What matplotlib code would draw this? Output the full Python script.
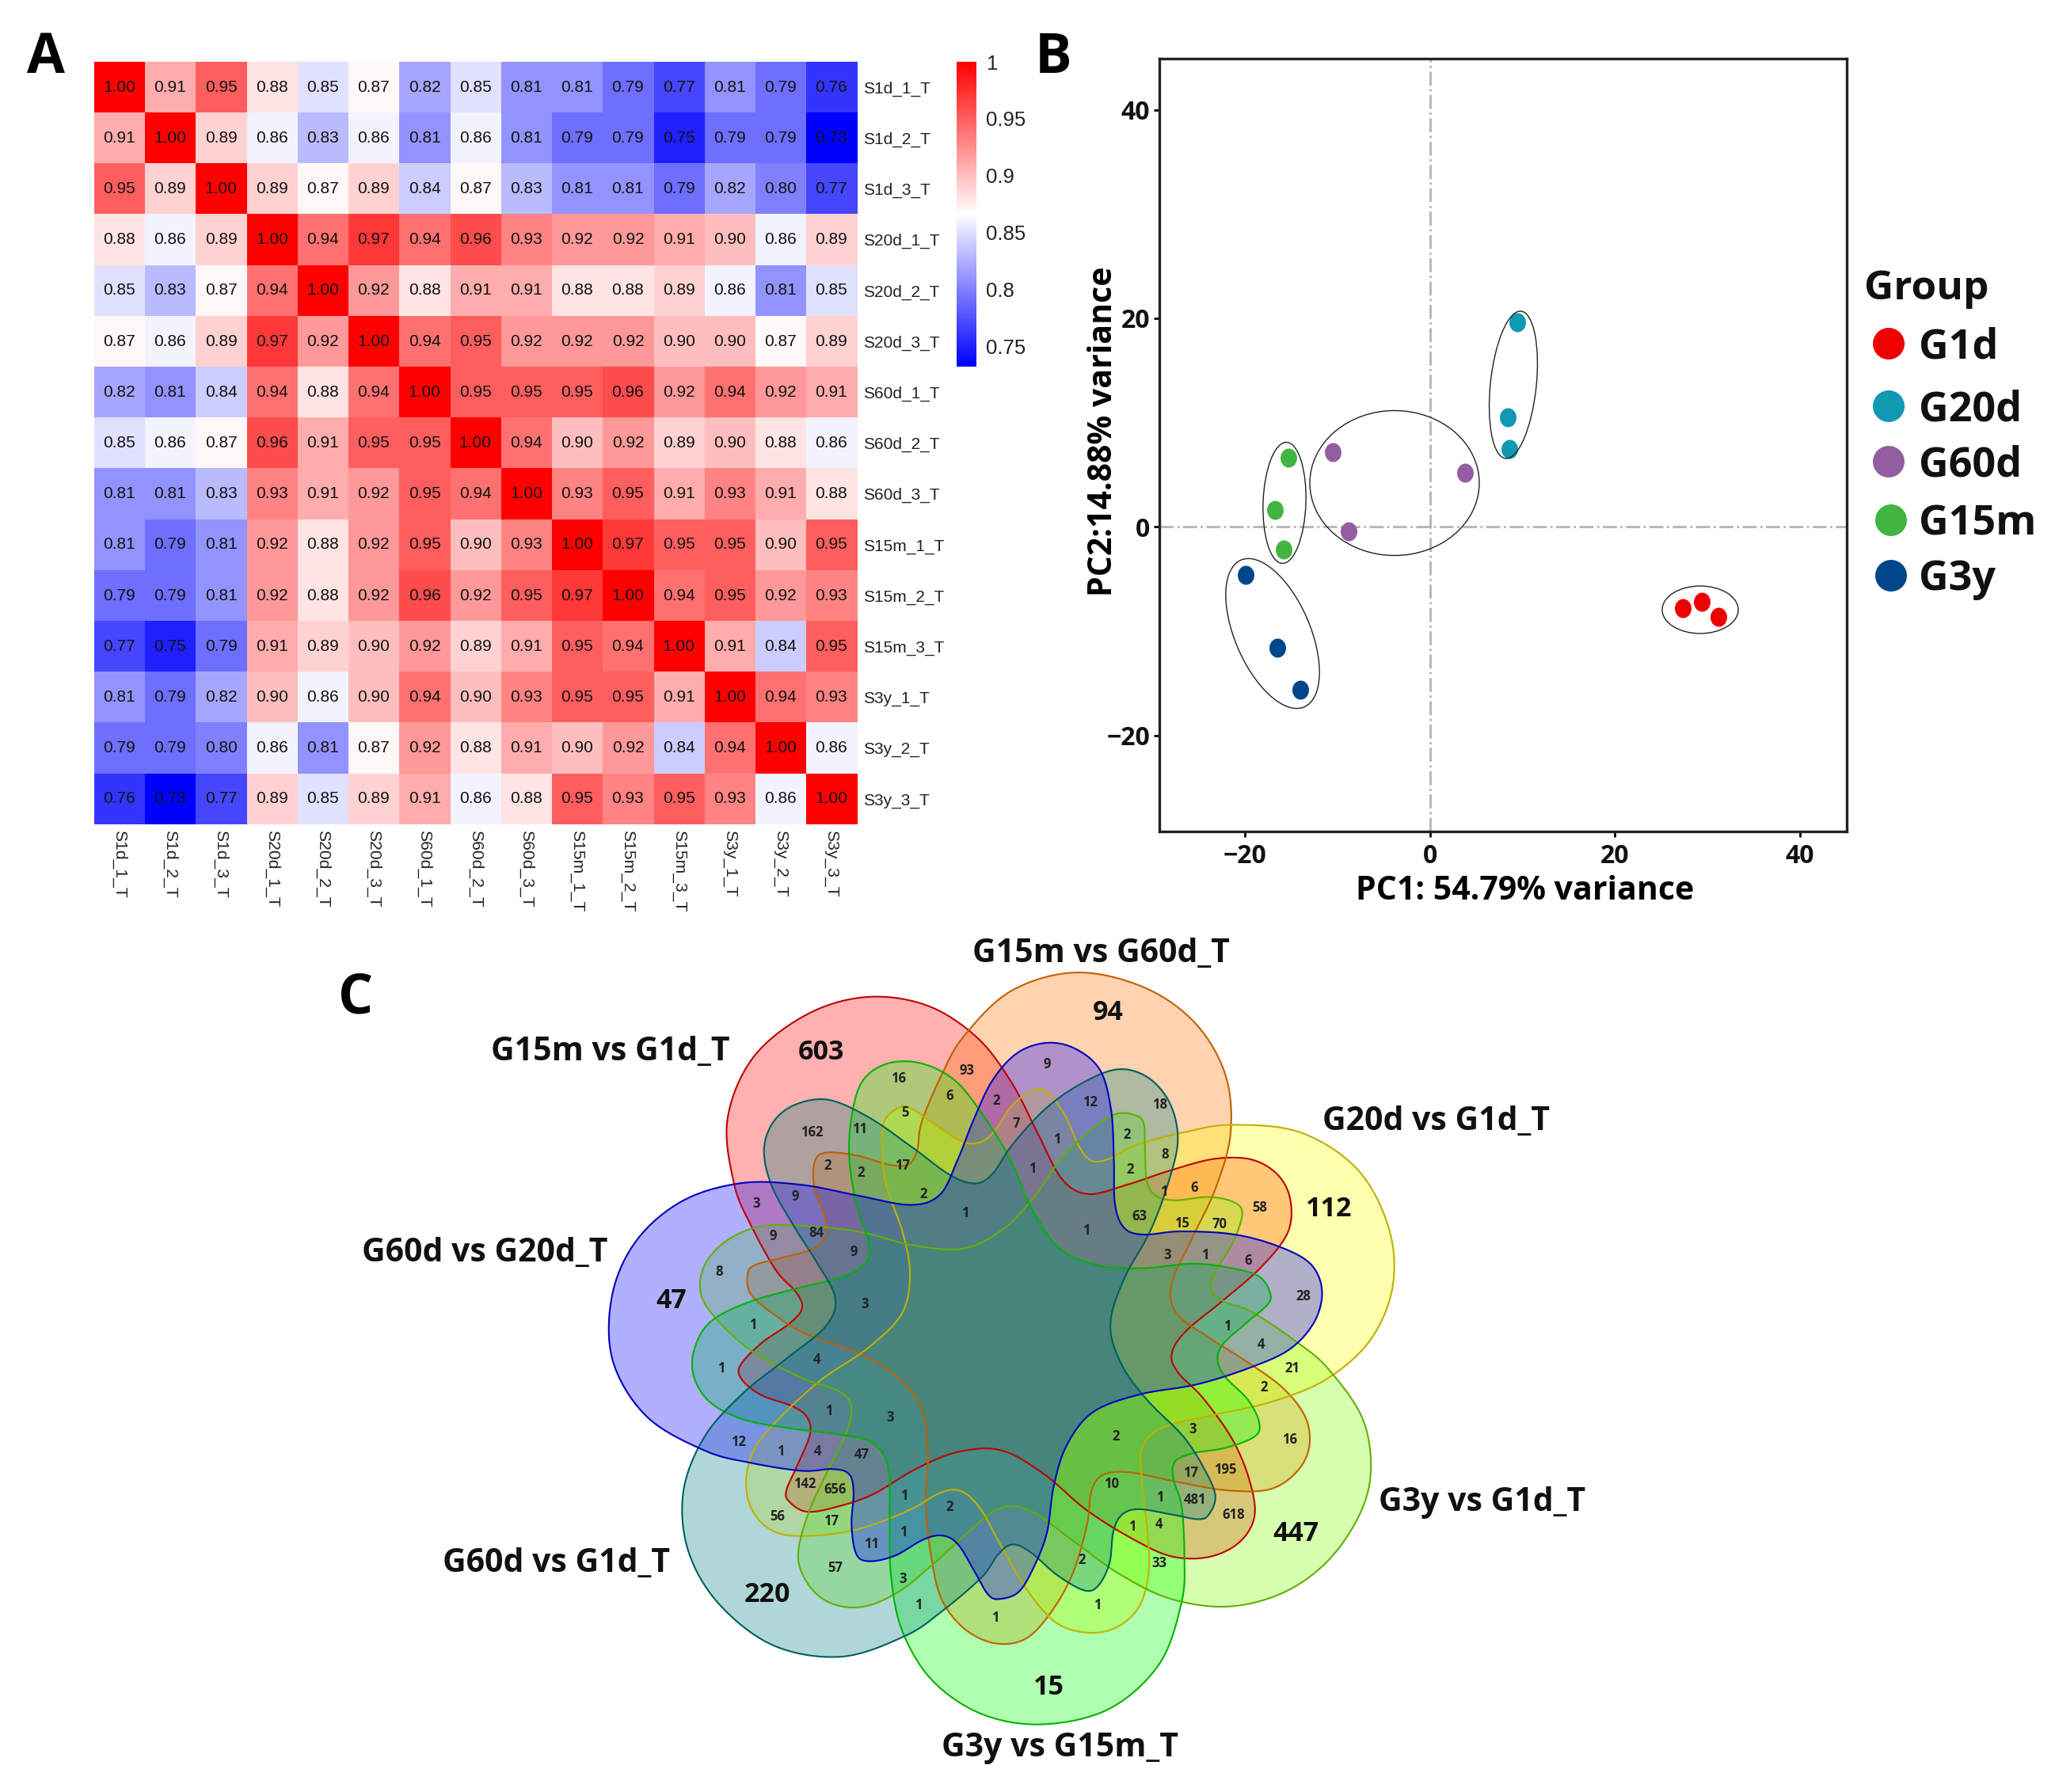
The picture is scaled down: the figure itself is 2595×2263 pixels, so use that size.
import numpy as np
import matplotlib
matplotlib.use("Agg")
import matplotlib.pyplot as plt
from matplotlib.colors import LinearSegmentedColormap
from matplotlib.patches import Ellipse, Polygon
from matplotlib.path import Path
from matplotlib.transforms import Affine2D

W, H = 2595, 2263
samples = ["S1d_1_T","S1d_2_T","S1d_3_T","S20d_1_T","S20d_2_T","S20d_3_T","S60d_1_T","S60d_2_T",
           "S60d_3_T","S15m_1_T","S15m_2_T","S15m_3_T","S3y_1_T","S3y_2_T","S3y_3_T"]
corr = [
[1.00,.91,.95,.88,.85,.87,.82,.85,.81,.81,.79,.77,.81,.79,.76],
[.91,1.00,.89,.86,.83,.86,.81,.86,.81,.79,.79,.75,.79,.79,.73],
[.95,.89,1.00,.89,.87,.89,.84,.87,.83,.81,.81,.79,.82,.80,.77],
[.88,.86,.89,1.00,.94,.97,.94,.96,.93,.92,.92,.91,.90,.86,.89],
[.85,.83,.87,.94,1.00,.92,.88,.91,.91,.88,.88,.89,.86,.81,.85],
[.87,.86,.89,.97,.92,1.00,.94,.95,.92,.92,.92,.90,.90,.87,.89],
[.82,.81,.84,.94,.88,.94,1.00,.95,.95,.95,.96,.92,.94,.92,.91],
[.85,.86,.87,.96,.91,.95,.95,1.00,.94,.90,.92,.89,.90,.88,.86],
[.81,.81,.83,.93,.91,.92,.95,.94,1.00,.93,.95,.91,.93,.91,.88],
[.81,.79,.81,.92,.88,.92,.95,.90,.93,1.00,.97,.95,.95,.90,.95],
[.79,.79,.81,.92,.88,.92,.96,.92,.95,.97,1.00,.94,.95,.92,.93],
[.77,.75,.79,.91,.89,.90,.92,.89,.91,.95,.94,1.00,.91,.84,.95],
[.81,.79,.82,.90,.86,.90,.94,.90,.93,.95,.95,.91,1.00,.94,.93],
[.79,.79,.80,.86,.81,.87,.92,.88,.91,.90,.92,.84,.94,1.00,.86],
[.76,.73,.77,.89,.85,.89,.91,.86,.88,.95,.93,.95,.93,.86,1.00]]
cbar_ticks = [1, .95, .9, .85, .8, .75]
cbar_labels = ["1", "0.95", "0.9", "0.85", "0.8", "0.75"]

groups = ["G1d", "G20d", "G60d", "G15m", "G3y"]
group_colors = ["#ED0000", "#0F99B2", "#925E9F", "#42B540", "#00468B"]
pc1 = [[27.3,29.4,31.2],[9.47,8.4,8.6],[-10.5,3.8,-8.8],[-15.3,-16.75,-15.8],[-19.9,-16.5,-14.0]]
pc2 = [[-7.8,-7.15,-8.6],[19.6,10.5,7.44],[7.15,5.17,-0.4],[6.6,1.63,-2.15],[-4.6,-11.6,-15.6]]

venn_names = ["G3y vs G15m_T","G60d vs G1d_T","G60d vs G20d_T","G15m vs G1d_T","G15m vs G60d_T","G20d vs G1d_T","G3y vs G1d_T"]
venn_big = ["603","94","112","447","15","220","47"]
venn_small = ["93","16","6","9","2","7","12","18","5","162","11","1","2","8","2","2","17","1","2","1","6","58","2","3","9","1","63","15","70","9","84","9","1","3","1","6","8","28","3","1","1","4","4","1","21","2","1","3","2","3","16","12","1","4","47","17","195","10","142","656","1","1","481","2","618","56","17","1","4","1","11","2","33","57","3","1","1","1"]

big_xy = [(481,248),(997,178),(1394,527),(1335,1105),(890,1378),(383,1213),(211,691)]
small_xy = [(743,282),(619,296),(711,327),(887,270),(796,335),(832,376),(965,338),(1090,342),(631,356),(463,391),(549,386),(905,404),(1031,396),(1099,431),(492,451),(552,464),(627,451),(861,456),(1037,458),(1097,498),(1152,491),(1270,525),(664,501),(363,518),(434,506),(739,536),(1053,541),(1130,554),(1197,555),(394,576),(472,571),(539,604),(957,567),(1104,610),(1171,610),(1249,620),(297,640),(1349,684),(559,697),(357,734),(1211,737),(1272,770),(473,796),(300,812),(1328,811),(1277,845),(494,887),(605,899),(1011,933),(1149,920),(1324,939),(332,942),(407,959),(474,960),(554,965),(1146,998),(1207,992),(1003,1018),(451,1017),(505,1027),(630,1038),(1090,1041),(1153,1046),(712,1058),(1223,1072),(402,1075),(498,1083),(1040,1093),(1088,1089),(629,1103),(571,1125),(949,1152),(1089,1158),(505,1167),(628,1187),(655,1233),(978,1233),(794,1256)]
name_px = [(1339,2208),(703,1974),(612,1583),(771,1329),(1390,1205),(1814,1417),(1872,1898)]

outline = [(880,1448),(1000,1420),(1090,1340),(1130,1230),(1135,1150),(1130,1060),(1115,1010),(1118,980),(1150,965),(1210,955),(1262,935),(1270,910),(1250,870),(1210,830),(1195,800),(1205,770),(1250,730),(1285,700),(1290,680),(1270,650),(1220,635),(1150,627),(1060,635),(980,630),(910,600),(860,530),(820,440),(770,360),(720,300),(660,270),(600,270),(555,300),(535,360),(530,440),(545,530),(565,590),(560,625),(520,650),(440,670),(350,695),(280,730),(250,780),(250,830),(280,875),(340,905),(420,920),(500,930),(570,945),(600,990),(603,1080),(605,1180),(625,1280),(680,1370),(770,1430)]
# extent of each rotated outline (left, right, top, bottom)
venn_extent = [(248,1290,268,1448),(230,1190,282,1328),(98,1382,235,1225),(310,1327,153,1153),
               (347,1360,110,1305),(345,1512,317,1285),(262,1470,360,1240)]
venn_fill = ["#00ff00","#008080","#0000ff","#ff0000","#ff7200","#ffff00","#80ff00"]
venn_edge = ["#00b400","#005f5f","#0000c0","#c00000","#c06000","#c0b000","#60b000"]
draw_order = [3,4,5,6,0,1,2]

sans = ["Open Sans", "DejaVu Sans"]
helv = ["Liberation Sans", "DejaVu Sans"]

fig = plt.figure(figsize=(W/100, H/100), dpi=100, facecolor="white")
def box(l, t, r, b):
    return fig.add_axes([l/W, 1-b/H, (r-l)/W, (b-t)/H])

# ---- A heat map
ax = box(118.6, 78, 1082, 1041)
cmap = LinearSegmentedColormap.from_list("bwr2", ["#0000ff", "#ffffff", "#ff0000"], N=256)
arr = np.array(corr)
vmin, vmax = 0.7325, 1.0
ax.imshow(arr, cmap=cmap, vmin=vmin, vmax=vmax, aspect="auto", interpolation="nearest")
for i in range(15):
    for j in range(15):
        ax.text(j, i, f"{arr[i, j]:.2f}", ha="center", va="center", fontsize=15, family=helv, color="#111111")
ax.set_xticks(range(15)); ax.set_xticklabels(samples, rotation=270, fontsize=15.2, family=helv, color="#222222")
ax.yaxis.tick_right()
ax.set_yticks(range(15)); ax.set_yticklabels(samples, fontsize=15, family=helv, color="#222222")
ax.tick_params(axis="x", length=0, pad=5)
ax.tick_params(axis="y", length=0, pad=5.5)
for s in ax.spines.values():
    s.set_visible(False)

cax = box(1208, 78, 1233, 463)
grad = np.linspace(vmax, vmin, 256)[:, None]
cax.imshow(grad, cmap=cmap, vmin=vmin, vmax=vmax, aspect="auto", extent=[0, 1, vmin, vmax])
cax.set_xticks([]); cax.yaxis.tick_right()
cax.set_yticks(cbar_ticks); cax.set_yticklabels(cbar_labels, fontsize=18.5, family=helv, color="#222222")
cax.tick_params(length=0, pad=9)
for s in cax.spines.values():
    s.set_visible(False)

# ---- B PCA
bx = box(1463.5, 74, 2331.5, 1050)
bx.set_xlim(-29.26, 45.0); bx.set_ylim(-29.2, 44.9)
bx.axhline(0, color="#b4b4b4", lw=2, ls="-."); bx.axvline(0, color="#b4b4b4", lw=2, ls="-.")
dot = Path.unit_circle().transformed(Affine2D().scale(1, 1.15))
for x, y, c in zip(pc1, pc2, group_colors):
    bx.scatter(x, y, s=300, c=c, marker=dot, linewidths=0, zorder=3)
bx.set_xticks([-20, 0, 20, 40]); bx.set_yticks([-20, 0, 20, 40])
bx.tick_params(axis="x", length=5, width=2, labelsize=23, pad=6)
bx.tick_params(axis="y", length=5, width=2, labelsize=23, pad=3)
for t in bx.get_xticklabels() + bx.get_yticklabels():
    t.set_family(sans); t.set_fontweight("bold"); t.set_color("#111111")
bx.set_xlabel("PC1: 54.79% variance", fontsize=29.5, fontweight="bold", family=sans)
bx.set_ylabel("PC2:14.88% variance", fontsize=29.5, fontweight="bold", family=sans)
bx.xaxis.set_label_coords(0.532, -0.056)
bx.yaxis.set_label_coords(-0.057, 0.518)
for s in bx.spines.values():
    s.set_linewidth(2.4); s.set_color("#222222")

# ---- overlay in pixels
ov = fig.add_axes([0, 0, 1, 1], zorder=5)
ov.set_xlim(0, W); ov.set_ylim(H, 0); ov.axis("off"); ov.patch.set_alpha(0)
for letter, x, y in [("A", 58, 74), ("B", 1330, 74), ("C", 449, 1262)]:
    ov.text(x, y, letter, fontsize=50, fontweight="bold", family=sans, ha="center", va="center", color="black")

# ellipses around groups
for c, w, h, a in [((2147,770),96,60,0),((1911,486),58,187,6),((1761,610),214,183,0),((1622,635),54,153,2),((1607,800),95,202,-23.3)]:
    ov.add_patch(Ellipse(c, w, h, angle=a, fill=False, ec="#222222", lw=1.0, zorder=6))

# legend
ov.text(2354, 365, "Group", fontsize=37, fontweight="bold", family=sans, va="center", color="#111111")
leg_y = [434, 513, 583, 657, 727]
leg_x = [2385, 2385, 2385, 2388, 2388]
for g, c, x, y in zip(groups, group_colors, leg_x, leg_y):
    ov.add_patch(Ellipse((x, y), 40, 40, fc=c, ec="none"))
    ov.text(2423, y+5, g, fontsize=37.5, fontweight="bold", family=sans, va="center", color="#111111")

# ---- C Venn
FX, FY = 1.4255, 1.409
def px(p):
    return 700 + p[0]/FX, 1150 + p[1]/FY
cx, cy = px((831, 764))
pts = np.array([px(p) for p in outline]) - [cx, cy]

def closed_spline(p, n=24):
    out = []
    m = len(p)
    t = np.linspace(0, 1, n, endpoint=False)[:, None]
    for i in range(m):
        p0, p1, p2, p3 = p[(i-1) % m], p[i], p[(i+1) % m], p[(i+2) % m]
        out.append(0.5*((2*p1) + (-p0+p2)*t + (2*p0-5*p1+4*p2-p3)*t**2 + (-p0+3*p1-3*p2+p3)*t**3))
    return np.vstack(out)

curve = closed_spline(pts)
shapes = {}
for k in draw_order:
    th = np.deg2rad(k*360/7)
    R = np.array([[np.cos(th), -np.sin(th)], [np.sin(th), np.cos(th)]])
    xy = curve @ R.T
    l, r, t, b = venn_extent[k]
    (x0, y0), (x1, y1) = px((l, t)), px((r, b))
    xy = (xy - xy.min(axis=0)) / (xy.max(axis=0) - xy.min(axis=0)) * [x1-x0, y1-y0] + [x0, y0]
    shapes[k] = xy
for k in draw_order:
    ov.add_patch(Polygon(shapes[k], closed=True, fc=venn_fill[k], ec="none", alpha=0.31, zorder=2))
for k in draw_order:
    ov.add_patch(Polygon(shapes[k], closed=True, fc="none", ec=venn_edge[k], lw=1.5, zorder=3))

for s, p in zip(venn_big, big_xy):
    x, y = px(p)
    ov.text(x, y+3, s, fontsize=24.5, fontweight="bold", family=sans, ha="center", va="center", color="#111111", zorder=7)
for s, p in zip(venn_small, small_xy):
    x, y = px(p)
    ov.text(x, y+2, s, fontsize=12, fontweight="bold", family=sans, ha="center", va="center", color="#222222", zorder=7)
for s, (x, y) in zip(venn_names, name_px):
    ov.text(x, y, s, fontsize=29.5, fontweight="bold", family=sans, ha="center", va="center", color="#111111", zorder=7)

fig.savefig("out.png", dpi=100, facecolor="white")
